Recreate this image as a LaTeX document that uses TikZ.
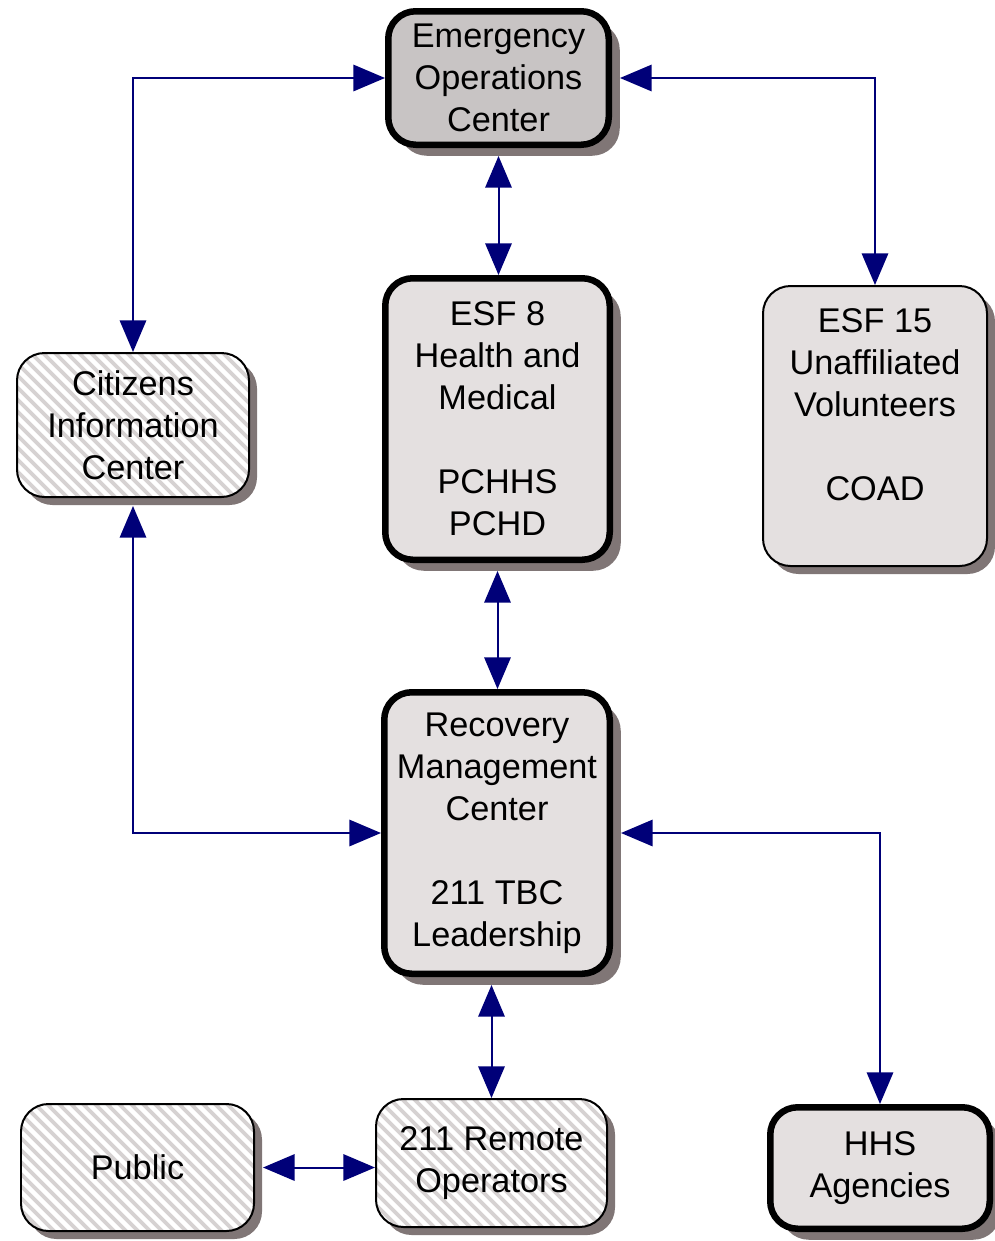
\documentclass[tikz,border=0pt]{standalone}
\usepackage{fontspec}
\setmainfont{Liberation Sans}
\usetikzlibrary{arrows.meta,shadows}

\definecolor{navy}{RGB}{0,0,120}
\definecolor{eocgray}{RGB}{200,196,196}
\definecolor{boxgray}{RGB}{228,224,224}
\definecolor{hatchgray}{RGB}{214,210,210}
\definecolor{shadowgray}{RGB}{128,118,118}

\tikzstyle{box}=[rectangle,rounded corners=0.55cm,align=center,inner sep=0pt,
  font=\fontsize{19.5pt}{23.9pt}\selectfont]
\tikzstyle{thick box}=[box,draw=black,line width=0.13cm,fill=boxgray,
  general shadow={shadow xshift=0.22cm,shadow yshift=-0.22cm,fill=shadowgray}]
\tikzstyle{thin box}=[box,draw=black,line width=0.04cm,fill=boxgray,
  general shadow={shadow xshift=0.16cm,shadow yshift=-0.16cm,fill=shadowgray}]
\tikzstyle{hatched}=[thin box,fill=hatchgray,
  path picture={\foreach \k in {-3.2,-2.96,...,5}
    \draw[white,line width=0.09cm] ([xshift=\k cm]path picture bounding box.north west) -- ++(3.2,-3.2);}]
\tikzstyle{edge}=[draw=navy,line width=0.04cm,
  {Triangle[length=18pt,width=15pt]}-{Triangle[length=18pt,width=15pt]}]
\tikzstyle{from shadow}=[shorten <=0.16cm]

\begin{document}
\begin{tikzpicture}
\useasboundingbox (0,0) rectangle (19.9,-24.82);

\node[thick box,fill=eocgray,minimum width=4.41cm,minimum height=2.67cm] (eoc) at (9.97,-1.56) {Emergency\\Operations\\Center};
\node[thick box,minimum width=4.49cm,minimum height=5.63cm] (esf8) at (9.95,-8.38) {ESF 8\\Health and\\Medical\\[23.9pt]PCHHS\\PCHD};
\node[thin box,minimum width=4.48cm,minimum height=5.60cm] (esf15) at (17.50,-8.52) {ESF 15\\Unaffiliated\\Volunteers\\[23.9pt]COAD\\\mbox{}};
\node[hatched,minimum width=4.64cm,minimum height=2.88cm] (cic) at (2.66,-8.50) {Citizens\\Information\\Center};
\node[thick box,minimum width=4.51cm,minimum height=5.63cm] (rmc) at (9.94,-16.66) {Recovery\\Management\\Center\\[23.9pt]211 TBC\\Leadership};
\node[hatched,minimum width=4.66cm,minimum height=2.54cm] (pub) at (2.75,-23.35) {Public};
\node[hatched,minimum width=4.62cm,minimum height=2.56cm] (rem) at (9.83,-23.26) {211 Remote\\Operators};
\node[thick box,minimum width=4.39cm,minimum height=2.43cm] (hhs) at (17.60,-23.36) {HHS\\Agencies};

 \path[edge] (eoc.west) -| (cic.north);
 \path[edge,from shadow] (eoc.east) -| (esf15.north);
 \path[edge,from shadow] (eoc.south) -- (eoc.south |- esf8.north);
 \path[edge,from shadow] (esf8.south) -- (esf8.south |- rmc.north);
 \path[edge,from shadow] (cic.south) |- (rmc.west);
 \path[edge,from shadow] (rmc.east) -| (hhs.north);
 \path[edge,from shadow] (rmc.south -| rem.north) -- (rem.north);
 \path[edge,from shadow] (pub.east) -- (pub.east -| rem.west);
\end{tikzpicture}
\end{document}
